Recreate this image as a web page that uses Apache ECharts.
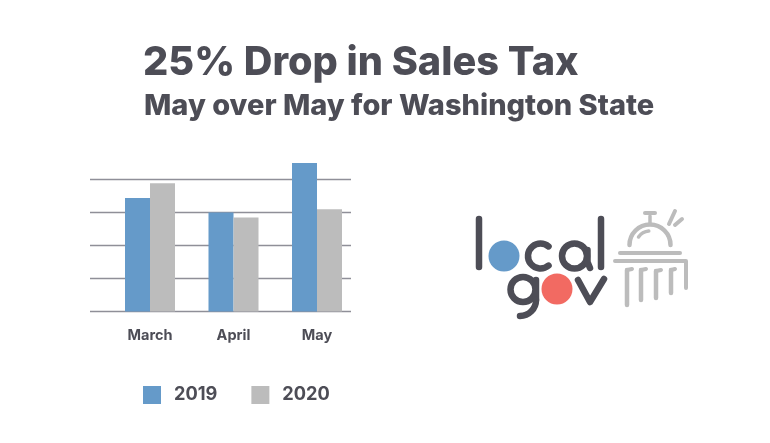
<!DOCTYPE html>
<html><head><meta charset="utf-8">
<style>html,body{margin:0;background:#fff}#c{width:770px;height:443px}</style>
<script src="https://cdn.jsdelivr.net/npm/echarts@6/dist/echarts.min.js"></script>
</head><body><div id="c"></div>
<script>
const categories = ['March','April','May'];
const sales2019 = [3.44, 3.0, 4.5];
const sales2020 = [3.89, 2.85, 3.1];
const barAxisMax = 4.5;
const gridAxisMax = 4;
const ink = '#4d4d56', blue = '#659ac9', grey = '#bcbcbc', red = '#f26a62';

function line(pts, color, w){ return {type:'polyline', shape:{points:pts}, style:{stroke:color, lineWidth:w, lineCap:'round', lineJoin:'round', fill:null}, silent:true}; }
function arc(cx,cy,r,a,b,color,w){ return {type:'arc', shape:{cx,cy,r,startAngle:a*Math.PI/180,endAngle:b*Math.PI/180,clockwise:true}, style:{stroke:color, lineWidth:w, lineCap:'round', fill:null}, silent:true}; }
function dot(cx,cy,r,color){ return {type:'circle', shape:{cx,cy,r}, style:{fill:color}, silent:true}; }

const logo = [
  line([[479,219],[479,267]],ink,6.5),
  dot(504,256,15.5,blue),
  arc(540.5,256,12.5,50,310,ink,6.5),
  arc(574.5,256,12.5,0,360,ink,6.5),
  line([[587.5,250],[587.5,262],[590,268]],ink,6.5),
  line([[601,219],[601,267]],ink,6.5),
  arc(523,289.5,12.5,0,360,ink,6.5),
  line([[536,280],[536,300]],ink,6.5),
  arc(520,300,16,0,90,ink,6.5),
  dot(557,289,15.5,red),
  line([[578,280],[590,302],[604,279]],ink,6.5),
  arc(650,245,20.5,180,360,grey,4.5),
  arc(650,245,14,215,265,grey,3.5),
  line([[650,216],[650,224]],grey,3.5),
  line([[645,213],[655,213]],grey,4),
  line([[669,224],[675,211]],grey,4),
  line([[675,225],[682,219]],grey,4),
  line([[620,253],[680,253]],grey,4),
  line([[615,261],[686,261],[686,288]],grey,4),
  line([[627,270],[627,305]],grey,4.5),
  line([[627,270],[632,269]],grey,4),
  line([[641,270],[641,300]],grey,4.5),
  line([[641,270],[646,269]],grey,4),
  line([[656,271],[656,298]],grey,4.5),
  line([[656,271],[661,270]],grey,4),
  line([[671,270],[671,293]],grey,4.5),
  line([[671,270],[675,269]],grey,4)
];

const chart = echarts.init(document.getElementById('c'), null, {renderer:'canvas'});
chart.setOption({
  animation:false,
  backgroundColor:'#fff',
  title:[
    {text:'25% Drop in Sales Tax', left:143, top:43, padding:0, textStyle:{fontFamily:'Inter', fontWeight:800, fontSize:39.7, color:ink}},
    {text:'May over May for Washington State', left:144, top:92, padding:0, textStyle:{fontFamily:'Inter', fontWeight:800, fontSize:29, color:ink}}
  ],
  legend:{
    left:143, top:386, padding:0, itemWidth:18, itemHeight:18, itemGap:34,
    icon:'rect', data:['2019','2020'],
    textStyle:{fontFamily:'Inter', fontWeight:700, fontSize:18.2, color:ink, padding:[0,0,0,8]}
  },
  grid:[
    {left:90, width:261, top:179.5, height:132},
    {left:108.25, width:250.5, top:163, height:148.5}
  ],
  xAxis:[
    {type:'category', gridIndex:0, data:categories, show:false},
    {type:'category', gridIndex:1, data:categories,
     axisLine:{show:false}, axisTick:{show:false},
     axisLabel:{margin:17, fontFamily:'Inter', fontWeight:700, fontSize:14.5, color:ink}}
  ],
  yAxis:[
    {type:'value', gridIndex:0, min:0, max:gridAxisMax, interval:1,
     axisLabel:{show:false}, axisLine:{show:false}, axisTick:{show:false},
     splitLine:{lineStyle:{color:'#8f8f98', width:1.3}}},
    {type:'value', gridIndex:1, min:0, max:barAxisMax, interval:1, show:false, splitLine:{show:false}}
  ],
  series:[
    {name:'2019', type:'bar', xAxisIndex:1, yAxisIndex:1, data:sales2019, barWidth:25, barGap:'0%', itemStyle:{color:blue}, z:3},
    {name:'2020', type:'bar', xAxisIndex:1, yAxisIndex:1, data:sales2020, barWidth:25, barGap:'0%', itemStyle:{color:grey}, z:3}
  ],
  graphic:logo
});
</script></body></html>
